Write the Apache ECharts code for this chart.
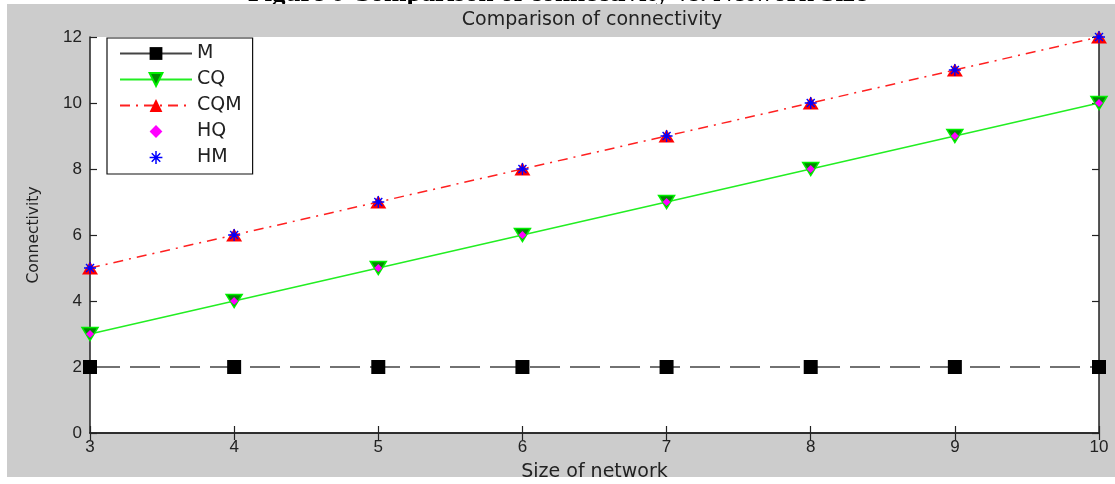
<!DOCTYPE html>
<html><head><meta charset="utf-8">
<script src="https://cdn.jsdelivr.net/npm/echarts@6/dist/echarts.min.js"></script>
<style>html,body{margin:0;padding:0;background:#fff}#c{width:1115px;height:484px}</style>
</head><body><div id="c"></div>
<script>
const networkSize = [3, 4, 5, 6, 7, 8, 9, 10];
const valuesM   = [2, 2, 2, 2, 2, 2, 2, 2];
const valuesCQ  = [3, 4, 5, 6, 7, 8, 9, 10];
const valuesCQM = [5, 6, 7, 8, 9, 10, 11, 12];
const valuesHQ  = [3, 4, 5, 6, 7, 8, 9, 10];
const valuesHM  = [5, 6, 7, 8, 9, 10, 11, 12];
const seriesNames = ['M', 'CQ', 'CQM', 'HQ', 'HM'];
const captionText = 'Figure 6 Comparison of connectivity vs. Network Size';
const titleText = 'Comparison of connectivity';
const xName = 'Size of network';
const yName = 'Connectivity';

const F = '"DejaVu Sans", "Liberation Sans", sans-serif';
const FN = '"Liberation Sans", Arial, sans-serif';
const pairs = v => networkSize.map((x, i) => [x, v[i]]);
const star = 'path://M-0.7,-6 L0.7,-6 L0.7,6 L-0.7,6 Z M-6,-0.7 L6,-0.7 L6,0.7 L-6,0.7 Z M-4.5,-3.5 L-3.5,-4.5 L4.5,3.5 L3.5,4.5 Z M3.5,-4.5 L4.5,-3.5 L-3.5,4.5 L-4.5,3.5 Z';

const chart = echarts.init(document.getElementById('c'), null, {renderer: 'canvas'});
const axisCommon = {
  axisLine: {show: true, lineStyle: {color: '#222', width: 1.5}},
  axisTick: {show: true, inside: true, length: 7, lineStyle: {color: '#222', width: 1.2}},
  splitLine: {show: false}
};
chart.setOption({
  backgroundColor: '#fff',
  animation: false,
  graphic: [
    {type: 'text', z: -30, left: 'center', top: -19,
     style: {text: captionText, font: 'bold 27px "Liberation Serif", "Times New Roman", serif', fill: '#000'}},
    {type: 'rect', z: -20, shape: {x: 7, y: 4, width: 1108, height: 473}, style: {fill: '#cccccc'}}
  ],
  title: {text: titleText, left: 587, textAlign: 'center', top: 6,
    textStyle: {fontFamily: F, fontSize: 19, fontWeight: 'normal', color: '#222'}},
  grid: {left: 90, right: 16, top: 37, bottom: 51, show: true, backgroundColor: '#fff', borderWidth: 0,
    containLabel: false, outerBoundsMode: 'none'},
  legend: {
    orient: 'vertical', left: 107, top: 38, padding: [6, 11, 7, 12], itemGap: 7,
    itemWidth: 72, itemHeight: 16, backgroundColor: '#fff', borderColor: '#111', borderWidth: 1.2,
    textStyle: {fontFamily: F, fontSize: 19, color: '#222'},
    data: [
      {name: 'M', lineStyle: {type: 'solid'}},
      {name: 'CQ'}, {name: 'CQM'}, {name: 'HQ'}, {name: 'HM'}
    ]
  },
  xAxis: [
    Object.assign({type: 'value', min: 3, max: 10, interval: 1, position: 'bottom',
      name: xName, nameLocation: 'middle', nameGap: 30,
      nameTextStyle: {fontFamily: F, fontSize: 19, color: '#222'},
      axisLabel: {fontFamily: FN, fontSize: 17, color: '#222', margin: 6}}, axisCommon),
    Object.assign({type: 'value', min: 3, max: 10, interval: 1, position: 'top',
      axisLabel: {show: false}}, axisCommon)
  ],
  yAxis: [
    Object.assign({type: 'value', min: 0, max: 12, interval: 2, position: 'left',
      name: yName, nameLocation: 'middle', nameGap: 48, nameRotate: 90,
      nameTextStyle: {fontFamily: F, fontSize: 15.5, color: '#222'},
      axisLabel: {fontFamily: FN, fontSize: 17, color: '#222', margin: 8}}, axisCommon),
    Object.assign({type: 'value', min: 0, max: 12, interval: 2, position: 'right',
      axisLabel: {show: false}}, axisCommon)
  ],
  series: [
    {name: seriesNames[0], type: 'line', data: pairs(valuesM), clip: false,
     symbol: 'rect', symbolSize: 14,
     itemStyle: {color: '#000'},
     lineStyle: {color: '#444', width: 1.5, type: [30, 10]}},
    {name: seriesNames[1], type: 'line', data: pairs(valuesCQ), clip: false,
     symbol: 'triangle', symbolRotate: 180, symbolSize: [16, 13],
     itemStyle: {color: '#008a00', borderColor: '#00ee00', borderWidth: 1.5},
     lineStyle: {color: '#22ee22', width: 1.5}},
    {name: seriesNames[2], type: 'line', data: pairs(valuesCQM), clip: false,
     symbol: 'triangle', symbolSize: [16, 13],
     itemStyle: {color: '#ff0000'},
     lineStyle: {color: '#ff2020', width: 1.5, type: [10, 6, 2, 6]}},
    {name: seriesNames[3], type: 'line', data: pairs(valuesHQ), clip: false,
     symbol: 'diamond', symbolSize: 8,
     itemStyle: {color: '#ff00ff'},
     lineStyle: {width: 0, opacity: 0}},
    {name: seriesNames[4], type: 'line', data: pairs(valuesHM), clip: false,
     symbol: star, symbolSize: 12,
     itemStyle: {color: '#0000ff'},
     lineStyle: {width: 0, opacity: 0}}
  ]
});
</script></body></html>
